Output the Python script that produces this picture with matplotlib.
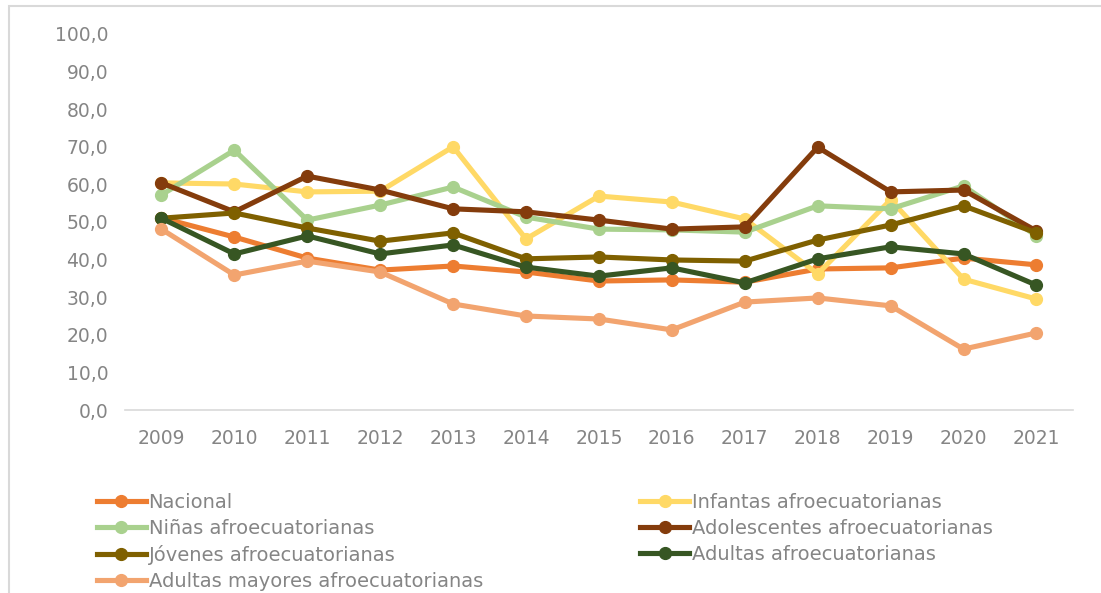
import matplotlib
matplotlib.use("Agg")
import matplotlib.pyplot as plt
from matplotlib.patches import Rectangle
from matplotlib.ticker import FuncFormatter, MultipleLocator

plt.rcParams["font.family"] = ["DejaVu Sans"]

YEARS = [2009, 2010, 2011, 2012, 2013, 2014, 2015, 2016, 2017, 2018, 2019, 2020, 2021]

NACIONAL = [51.1, 46.0, 40.4, 37.2, 38.3, 36.7, 34.3, 34.6, 34.0, 37.5, 37.8, 40.4, 38.6]
INFANTAS = [60.4, 60.1, 58.0, 58.2, 70.0, 45.5, 56.9, 55.3, 50.8, 36.2, 55.9, 34.8, 29.5]
NINAS = [57.2, 69.1, 50.5, 54.5, 59.3, 51.3, 48.1, 47.9, 47.3, 54.3, 53.5, 59.6, 46.3]
ADOLESCENTES = [60.4, 52.7, 62.2, 58.5, 53.5, 52.7, 50.5, 48.1, 48.7, 69.9, 58.0, 58.5, 47.6]
JOVENES = [51.0, 52.4, 48.4, 44.9, 47.1, 40.2, 40.7, 39.9, 39.6, 45.2, 49.2, 54.3, 47.1]
ADULTAS = [51.0, 41.5, 46.3, 41.5, 43.9, 38.0, 35.6, 37.8, 33.8, 40.2, 43.4, 41.5, 33.2]
ADULTAS_MAYORES = [48.1, 35.9, 39.6, 36.7, 28.2, 25.0, 24.2, 21.3, 28.7, 29.8, 27.7, 16.2, 20.5]

SERIES = [
    ("Nacional", NACIONAL, "#ED7D31"),
    ("Infantas afroecuatorianas", INFANTAS, "#FFD966"),
    ("Niñas afroecuatorianas", NINAS, "#A9D18E"),
    ("Adolescentes afroecuatorianas", ADOLESCENTES, "#843C0C"),
    ("Jóvenes afroecuatorianas", JOVENES, "#7F6000"),
    ("Adultas afroecuatorianas", ADULTAS, "#375623"),
    ("Adultas mayores afroecuatorianas", ADULTAS_MAYORES, "#F2A46F"),
]

TEXT_COLOR = "#858585"

fig = plt.figure(figsize=(11.01, 5.93), dpi=100)
ax = fig.add_axes([0.1135, 0.3086, 0.861, 0.6341])

x = list(range(len(YEARS)))
lines = {}
for label, values, color in SERIES:
    (ln,) = ax.plot(x, values, color=color, lw=3.7, marker="o", ms=8.5,
                    solid_joinstyle="round", label=label)
    lines[label] = ln

ax.set_xlim(-0.5, len(YEARS) - 0.5)
ax.set_ylim(0, 100)
ax.yaxis.set_major_locator(MultipleLocator(10))
ax.yaxis.set_major_formatter(FuncFormatter(lambda v, _: f"{v:.1f}".replace(".", ",")))
ax.set_xticks(x)
ax.set_xticklabels([str(y) for y in YEARS])

for side in ["top", "right", "left"]:
    ax.spines[side].set_visible(False)
ax.spines["bottom"].set_color("#D9D9D9")
ax.spines["bottom"].set_linewidth(1.2)
ax.tick_params(axis="both", length=0, labelsize=13.5, colors=TEXT_COLOR)
ax.tick_params(axis="x", pad=14)
ax.tick_params(axis="y", pad=12)

# legend: column 1 = items 0,2,4,6 ; column 2 = items 1,3,5
order = [0, 2, 4, 6, 1, 3, 5]
handles = [lines[SERIES[i][0]] for i in order]
labels = [SERIES[i][0] for i in order]
leg = fig.legend(handles, labels, loc="upper left",
                 bbox_to_anchor=(97 / 1101, 1 - 493 / 593), ncol=2,
                 frameon=False, fontsize=14, handlelength=2.5,
                 handletextpad=0.15, labelspacing=0.36, columnspacing=8.1,
                 borderpad=0, borderaxespad=0)
for t in leg.get_texts():
    t.set_color(TEXT_COLOR)

# light frame around the chart
fig.patches.append(Rectangle((9 / 1101, -0.05), 1.2, 1 - 6 / 593 + 0.05,
                             transform=fig.transFigure, fill=False,
                             edgecolor="#D9D9D9", lw=1.5))

fig.savefig("out.png", dpi=100)
